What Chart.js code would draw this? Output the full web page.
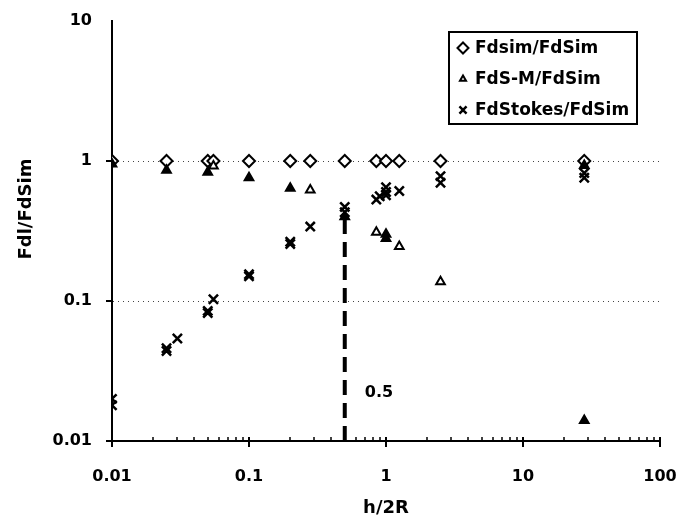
<!DOCTYPE html>
<html>
<head>
<meta charset="utf-8">
<script src="https://cdn.jsdelivr.net/npm/chart.js@4.4.1/dist/chart.umd.min.js"></script>
<style>
html,body{margin:0;padding:0;background:#fff;}
#wrap{width:695px;height:518px;position:relative;}
</style>
</head>
<body>
<div id="wrap"><canvas id="c" width="695" height="518"></canvas></div>
<script>
// ---- data ----
const xTickValues = [0.01, 0.1, 1, 10, 100];
const yTickValues = [0.01, 0.1, 1, 10];
const xTickLabels = ["0.01", "0.1", "1", "10", "100"];
const yTickLabels = ["0.01", "0.1", "1", "10"];

const seriesNames = ["Fdsim/FdSim", "FdS-M/FdSim", "FdStokes/FdSim"];

const simX = [0.01, 0.025, 0.05, 0.055, 0.1, 0.2, 0.28, 0.5, 0.85, 1.0, 1.25, 2.5, 28];
const simY = [1, 1, 1, 1, 1, 1, 1, 1, 1, 1, 1, 1, 1];

const smX = [0.01, 0.025, 0.05, 0.055, 0.1, 0.2, 0.28, 0.5, 0.85, 1.0, 1.0, 1.25, 2.5, 28, 28];
const smY = [0.95, 0.86, 0.83, 0.92, 0.76, 0.64, 0.62, 0.40, 0.31, 0.30, 0.28, 0.245, 0.137, 0.93, 0.014];
const smFilled = [1, 1, 1, 0, 1, 1, 0, 1, 0, 1, 1, 0, 0, 1, 1];

const stX = [0.01, 0.01, 0.025, 0.025, 0.03, 0.05, 0.05, 0.055, 0.1, 0.1, 0.2, 0.2, 0.28, 0.5, 0.5, 0.85, 0.9, 1.0, 1.0, 1.0, 1.25, 2.5, 2.5, 28, 28];
const stY = [0.020, 0.018, 0.046, 0.044, 0.054, 0.085, 0.082, 0.103, 0.155, 0.150, 0.265, 0.255, 0.34, 0.47, 0.43, 0.53, 0.56, 0.65, 0.60, 0.57, 0.61, 0.78, 0.70, 0.82, 0.76];

const markerLineX = [0.5, 0.5];
const markerLineY = [0.01, 0.42];
const markerLabel = "0.5";

const xTitle = "h/2R";
const yTitle = "Fdl/FdSim";

const toPts = (xs, ys) => xs.map((x, i) => ({x: x, y: ys[i]}));

const FONT = "'DejaVu Sans', sans-serif";

const overlay = {
  id: 'overlay',
  afterDraw(chart) {
    const ctx = chart.ctx;
    const xs = chart.scales.x, ys = chart.scales.y;
    const ca = chart.chartArea;
    ctx.save();
    ctx.strokeStyle = '#000';
    ctx.lineWidth = 2;
    yTickValues.forEach(v => {
      const py = Math.round(ys.getPixelForValue(v));
      if (v === 10) return;
      ctx.beginPath(); ctx.moveTo(ca.left - 6, py); ctx.lineTo(ca.left, py); ctx.stroke();
    });
    xTickValues.forEach(v => {
      const px = Math.round(xs.getPixelForValue(v));
      ctx.beginPath(); ctx.moveTo(px, ca.bottom - 4); ctx.lineTo(px, ca.bottom + 6); ctx.stroke();
    });
    ctx.lineWidth = 1.5;
    for (let d = 0.01; d < 100; d *= 10) {
      for (let k = 2; k <= 9; k++) {
        const px = Math.round(xs.getPixelForValue(d * k));
        ctx.beginPath(); ctx.moveTo(px, ca.bottom - 4); ctx.lineTo(px, ca.bottom); ctx.stroke();
      }
    }
    ctx.fillStyle = '#000';
    ctx.font = "bold 16px " + FONT;
    ctx.textAlign = 'left';
    ctx.textBaseline = 'middle';
    ctx.fillText(markerLabel, xs.getPixelForValue(markerLineX[0]) + 20, ys.getPixelForValue(0.022));
    ctx.font = "bold 18px " + FONT;
    ctx.textAlign = 'center';
    ctx.fillText(xTitle, (ca.left + ca.right) / 2, 508);
    ctx.save();
    ctx.translate(26, 209);
    ctx.rotate(-Math.PI / 2);
    ctx.fillText(yTitle, 0, 0);
    ctx.restore();
    const lx = 449, ly = 32, lw = 188, lh = 92;
    ctx.fillStyle = '#fff';
    ctx.fillRect(lx, ly, lw, lh);
    ctx.lineWidth = 2;
    ctx.strokeStyle = '#000';
    ctx.strokeRect(lx, ly, lw, lh);
    const rowsY = [48, 79, 110];
    chart.data.datasets.slice(0, 3).forEach((ds, i) => {
      const opt = {
        pointStyle: ds.pointStyle,
        radius: ds.legendRadius,
        borderWidth: ds.pointBorderWidth,
        rotation: 0
      };
      ctx.save();
      ctx.strokeStyle = '#000';
      ctx.fillStyle = ds.legendFill;
      ctx.lineWidth = ds.pointBorderWidth;
      Chart.helpers.drawPoint(ctx, opt, 463, rowsY[i]);
      ctx.restore();
      ctx.fillStyle = '#000';
      ctx.font = "bold 17px " + FONT;
      ctx.textAlign = 'left';
      ctx.textBaseline = 'middle';
      ctx.fillText(ds.label, 475, rowsY[i] + 1);
    });
    ctx.restore();
  }
};

new Chart(document.getElementById('c'), {
  type: 'scatter',
  data: {
    datasets: [
      {
        label: seriesNames[0],
        data: toPts(simX, simY),
        pointStyle: 'rectRot',
        pointRadius: 6,
        pointBorderWidth: 2,
        pointBorderColor: '#000',
        pointBackgroundColor: '#fff',
        legendRadius: 5.5,
        legendFill: '#fff',
        order: 3
      },
      {
        label: seriesNames[1],
        data: toPts(smX, smY),
        pointStyle: 'triangle',
        pointRadius: 5,
        pointBorderWidth: 2,
        pointBorderColor: '#000',
        pointBackgroundColor: smFilled.map(f => f ? '#000' : '#fff'),
        legendRadius: 3.5,
        legendFill: '#fff',
        order: 2
      },
      {
        label: seriesNames[2],
        data: toPts(stX, stY),
        pointStyle: 'crossRot',
        pointRadius: 6.5,
        pointBorderWidth: 2.5,
        pointBorderColor: '#000',
        pointBackgroundColor: '#000',
        legendRadius: 5,
        legendFill: '#000',
        order: 1
      },
      {
        type: 'line',
        label: 'marker',
        data: toPts(markerLineX, markerLineY),
        borderColor: '#000',
        borderWidth: 4,
        borderDash: [15, 8],
        pointRadius: 0,
        showLine: true,
        order: 4
      }
    ]
  },
  options: {
    responsive: false,
    animation: false,
    events: [],
    layout: {padding: {left: 0, right: 35, top: 21, bottom: 0}},
    plugins: {legend: {display: false}, tooltip: {enabled: false}},
    scales: {
      x: {
        type: 'logarithmic',
        min: 0.01, max: 100,
        afterBuildTicks: s => { s.ticks = xTickValues.map(v => ({value: v})); },
        afterFit: s => { s.height = 77; s.paddingLeft = 0; s.paddingRight = 0; },
        ticks: {
          callback: (v) => { const i = xTickValues.indexOf(v); return i >= 0 ? xTickLabels[i] : ''; },
          color: '#000',
          font: {family: FONT, size: 16, weight: 'bold'},
          padding: 26,
          maxRotation: 0, autoSkip: false
        },
        grid: {display: false, drawTicks: false},
        border: {display: true, color: '#000', width: 2}
      },
      y: {
        type: 'logarithmic',
        min: 0.01, max: 10,
        afterBuildTicks: s => { s.ticks = yTickValues.map(v => ({value: v})); },
        afterFit: s => { s.width = 112; s.paddingTop = 0; s.paddingBottom = 0; },
        ticks: {
          callback: (v) => { const i = yTickValues.indexOf(v); return i >= 0 ? yTickLabels[i] : ''; },
          color: '#000',
          font: {family: FONT, size: 16, weight: 'bold'},
          padding: 20,
          autoSkip: false
        },
        grid: {
          drawTicks: false,
          lineWidth: 1,
          color: (c) => (c.tick && (c.tick.value === 0.1 || c.tick.value === 1)) ? '#444' : 'rgba(0,0,0,0)'
        },
        border: {display: true, color: '#000', width: 2, dash: [1, 4]}
      }
    }
  },
  plugins: [overlay]
});
</script>
</body>
</html>
